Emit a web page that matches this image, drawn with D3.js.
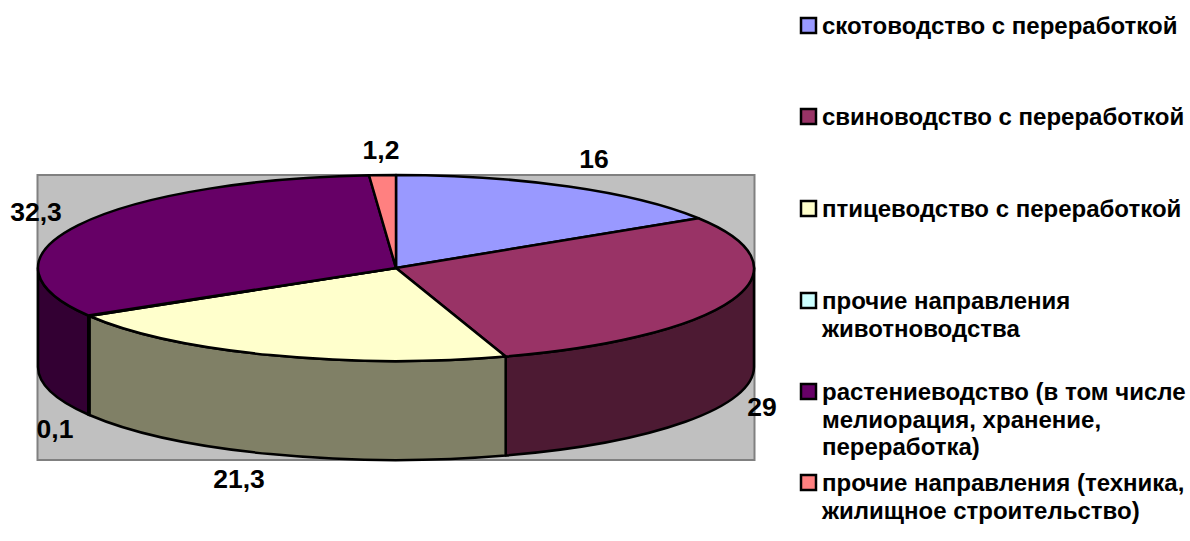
<!DOCTYPE html>
<html>
<head>
<meta charset="utf-8">
<style>
    html, body { margin: 0; padding: 0; background: #fff; }
    svg { display: block; }
    text { font-family: "Liberation Sans", Arial, sans-serif; font-weight: bold; fill: #000; }
</style>
</head>
<body>
<div id="chart"></div>
<script src="https://cdn.jsdelivr.net/npm/d3@7"></script>
<script>
    // data
    var categories = [
        ['скотоводство с переработкой'],
        ['свиноводство с переработкой'],
        ['птицеводство с переработкой'],
        ['прочие направления', 'животноводства'],
        ['растениеводство (в том числе', 'мелиорация, хранение,', 'переработка)'],
        ['прочие направления (техника,', 'жилищное строительство)']
    ];
    var values = [16, 29, 21.3, 0.1, 32.3, 1.2];
    var value_labels = ['16', '29', '21,3', '0,1', '32,3', '1,2'];

    // layout and style
    var width = 1190, height = 541;
    var cx = 396, cy = 268, rx = 358, ry = 93, depth = 99;
    var colors = ['#9999ff', '#993366', '#ffffcc', '#ccffff', '#660066', '#ff8080'];
    var side_colors = ['#4d4d80', '#4d1a33', '#808066', '#668080', '#330033', '#804040'];
    var label_pos = [[594, 168], [762, 416], [239, 488], [55, 438], [36, 221], [381, 159]];
    var legend_y = [33, 124, 216, 308, 399, 490];
    var label_size = 26.5, legend_size = 24, line_height = 27.6;

    var svg = d3.select('#chart').append('svg')
        .attr('width', width)
        .attr('height', height);

    svg.append('rect')
        .attr('x', 37.5)
        .attr('y', 175)
        .attr('width', 717)
        .attr('height', 285)
        .attr('fill', '#c0c0c0')
        .attr('stroke', '#808080')
        .attr('stroke-width', 2);

    var pie = d3.pie().sort(null).value(function(d){ return d; });
    var slices = pie(values);

    function ell_point(angle, dy){
        return (cx + rx * Math.sin(angle)) + ',' + (cy - ry * Math.cos(angle) + dy);
    }

    // only the front half of the rim is visible
    function side_path(d){
        var a0 = Math.max(d.startAngle, Math.PI / 2),
            a1 = Math.min(d.endAngle, 3 * Math.PI / 2);
        if(a1 <= a0) return null;
        return 'M' + ell_point(a0, 0)
            + 'A' + rx + ',' + ry + ' 0 0 1 ' + ell_point(a1, 0)
            + 'L' + ell_point(a1, depth)
            + 'A' + rx + ',' + ry + ' 0 0 0 ' + ell_point(a0, depth)
            + 'Z';
    }

    svg.append('g').selectAll('path')
        .data(slices.filter(function(d){ return side_path(d) !== null; }))
        .enter().append('path')
        .attr('d', side_path)
        .attr('fill', function(d){ return side_colors[d.index]; })
        .attr('stroke', '#000')
        .attr('stroke-width', 2.5)
        .attr('stroke-linejoin', 'round');

    // top face: circle arc squashed into the ellipse
    var arc = d3.arc().innerRadius(0).outerRadius(rx);

    svg.append('g')
        .attr('transform', 'translate(' + cx + ',' + cy + ') scale(1,' + (ry / rx) + ')')
        .selectAll('path')
        .data(slices)
        .enter().append('path')
        .attr('d', arc)
        .attr('fill', function(d){ return colors[d.index]; })
        .attr('stroke', '#000')
        .attr('stroke-width', 2.5)
        .attr('stroke-linejoin', 'round')
        .attr('vector-effect', 'non-scaling-stroke');

    svg.append('g').selectAll('text')
        .data(value_labels)
        .enter().append('text')
        .attr('x', function(d, i){ return label_pos[i][0]; })
        .attr('y', function(d, i){ return label_pos[i][1]; })
        .attr('text-anchor', 'middle')
        .attr('font-size', label_size)
        .text(function(d){ return d; });

    var legend = svg.append('g').selectAll('g')
        .data(categories)
        .enter().append('g')
        .attr('transform', function(d, i){ return 'translate(801,' + legend_y[i] + ')'; });

    legend.append('rect')
        .attr('x', 0)
        .attr('y', -15)
        .attr('width', 15)
        .attr('height', 15)
        .attr('fill', function(d, i){ return colors[i]; })
        .attr('stroke', '#000')
        .attr('stroke-width', 2.5);

    legend.each(function(lines){
        var row = d3.select(this);
        lines.forEach(function(line, j){
            row.append('text')
                .attr('x', 21)
                .attr('y', 1 + j * line_height)
                .attr('font-size', legend_size)
                .text(line);
        });
    });
</script>
</body>
</html>
